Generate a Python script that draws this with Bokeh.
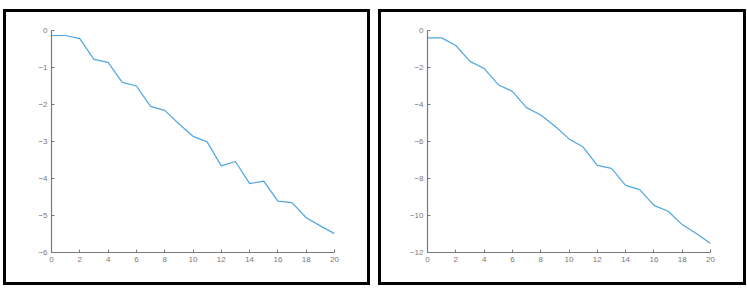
from bokeh.plotting import figure
from bokeh.layouts import row
from bokeh.models import FixedTicker, Range1d
from bokeh.embed import file_html
from bokeh.resources import INLINE

x_vals = list(range(21))
left_y = [-0.135, -0.135, -0.22, -0.78, -0.86, -1.40, -1.50, -2.05, -2.16, -2.52,
          -2.86, -3.01, -3.66, -3.54, -4.14, -4.07, -4.61, -4.65, -5.06, -5.28, -5.49]
right_y = [-0.40, -0.40, -0.81, -1.67, -2.05, -2.93, -3.29, -4.17, -4.57, -5.16,
           -5.86, -6.30, -7.29, -7.45, -8.37, -8.60, -9.45, -9.77, -10.49, -10.97, -11.51]
x_ticks = [0, 2, 4, 6, 8, 10, 12, 14, 16, 18, 20]
left_ticks = [0, -1, -2, -3, -4, -5, -6]
right_ticks = [0, -2, -4, -6, -8, -10, -12]

LINE = "#52a5e0"
AXIS = "#7a7a7a"
LABEL = "#777777"


def panel(y, yticks, ymin, width, left_border):
    p = figure(width=width, height=276, output_backend="svg", toolbar_location=None,
               x_range=Range1d(0, 20), y_range=Range1d(ymin, 0),
               min_border_left=left_border, min_border_right=39,
               min_border_top=18, min_border_bottom=36,
               styles={"border": "3px solid black"})
    p.line(x_vals, y, line_color=LINE, line_width=1.2)
    p.outline_line_color = None
    p.grid.visible = False
    p.xaxis.ticker = FixedTicker(ticks=x_ticks)
    p.yaxis.ticker = FixedTicker(ticks=yticks)
    for ax in (p.xaxis, p.yaxis):
        ax.axis_line_color = AXIS
        ax.axis_line_width = 1.2
        ax.major_tick_line_color = AXIS
        ax.major_tick_in = 3
        ax.major_tick_out = 0
        ax.minor_tick_line_color = None
        ax.major_label_text_color = LABEL
        ax.major_label_text_font = "Liberation Sans"
        ax.major_label_text_font_size = "8px"
    p.xaxis.major_label_standoff = 4
    p.yaxis.major_label_standoff = 4
    return p


p1 = panel(left_y, left_ticks, -6, 367, 45)
p2 = panel(right_y, right_ticks, -12, 368, 46)
layout = row(p1, p2, spacing=8, margin=(9, 0, 0, 3))

open("out.html", "w").write(file_html(layout, INLINE))
